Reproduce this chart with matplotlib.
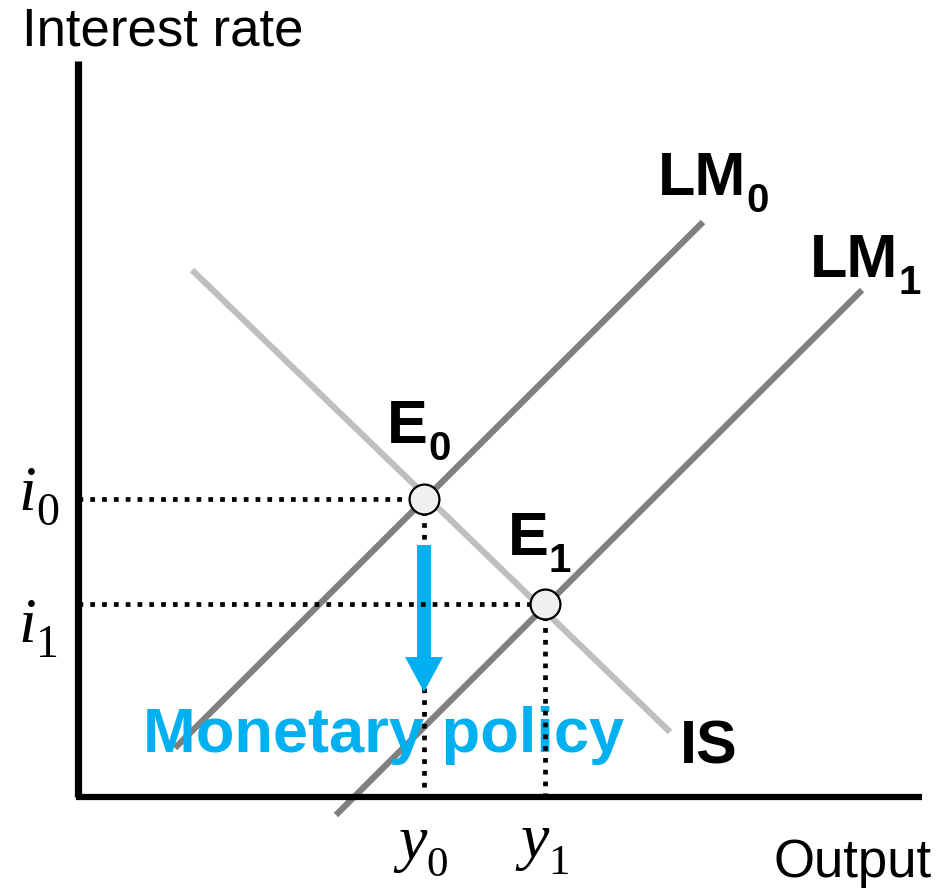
import matplotlib.pyplot as plt
from matplotlib.transforms import offset_copy

plt.rcParams['font.family'] = ['Liberation Sans', 'DejaVu Sans']

# diagram coordinates (origin at the axes corner)
x_axis_end = 84.4
y_axis_top = 73.6

lm0_x = [9.7, 62.5]
lm0_y = [4.9, 57.5]
lm1_x = [25.8, 78.4]
lm1_y = [-1.8, 50.7]
is_x = [11.4, 59.2]
is_y = [52.7, 6.5]

e0 = (34.6, 29.8)
e1 = (46.7, 19.3)

arrow_top = 25.2
arrow_tip = 10.5

fig = plt.figure(figsize=(9.41, 8.90), dpi=100)
ax = fig.add_axes([0, 0, 1, 1])
ax.set_xlim(-7.8, 86.3)
ax.set_ylim(-9.3, 79.7)
ax.axis('off')
renderer = fig.canvas.get_renderer()


def label(x, y, main, sub, size, subsize, drop, **kw):
    # main text then a subscript placed right after it, dropped below the baseline
    main_kw = dict(kw)
    sub_kw = dict(kw)
    if 'style' in sub_kw:
        sub_kw.pop('style')
    t = ax.text(x, y, main, fontsize=size, va='baseline', **main_kw)
    bb = t.get_window_extent(renderer)
    xs = ax.transData.inverted().transform((bb.x1, 0))[0]
    tr = offset_copy(ax.transData, fig=fig, x=0, y=-drop, units='dots')
    ax.text(xs, y, sub, fontsize=subsize, va='baseline', transform=tr, **sub_kw)


# axes
ax.plot([0, 0], [0, y_axis_top], color='black', lw=5.2, solid_capstyle='butt', zorder=3)
ax.plot([-0.2, x_axis_end], [0, 0], color='black', lw=4.5, solid_capstyle='butt', zorder=3)

# curves
ax.plot(is_x, is_y, color='#bfbfbf', lw=4.5, solid_capstyle='butt', zorder=2)
ax.plot(lm0_x, lm0_y, color='#808080', lw=4.5, solid_capstyle='butt', zorder=2)
ax.plot(lm1_x, lm1_y, color='#808080', lw=4.5, solid_capstyle='butt', zorder=2)

# dotted guides
dots = dict(color='black', lw=3.4, linestyle=(0, (1, 1.5)))
ax.plot([0, e0[0]], [e0[1], e0[1]], zorder=4, **dots)
ax.plot([e0[0], e0[0]], [e0[1], 0], zorder=4, **dots)
ax.plot([0, e1[0]], [e1[1], e1[1]], zorder=6, **dots)
ax.plot([e1[0], e1[0]], [e1[1], -0.4], zorder=4, **dots)

# policy arrow
ax.arrow(e0[0], arrow_top, 0, arrow_tip - arrow_top, width=1.4, head_width=3.8,
         head_length=3.5, length_includes_head=True, color='#00b0f0', lw=0, zorder=5)

# equilibrium points
ax.plot([e0[0], e1[0]], [e0[1], e1[1]], 'o', ms=21.5, mfc='#f0f0f0', mec='black',
        mew=1.6, zorder=7)

# labels
ax.text(-5.6, 75.2, 'Interest rate', fontsize=38, va='baseline')
ax.text(85.4, -8.0, 'Output', fontsize=38, va='baseline', ha='right')

bold = dict(fontweight='bold', zorder=8)
label(58.0, 60.2, 'LM', '0', 44, 29, 17, **bold)
label(73.2, 52.0, 'LM', '1', 44, 29, 17, **bold)
label(30.9, 35.4, 'E', '0', 44, 29, 17, **bold)
label(43.0, 24.2, 'E', '1', 44, 29, 17, **bold)
ax.text(60.2, 3.4, 'IS', fontsize=44, fontweight='bold', va='baseline')
ax.text(6.5, 4.5, 'Monetary policy', fontsize=45.5, fontweight='bold',
        color='#00b0f0', va='baseline', zorder=3.5)

serif = dict(family='Liberation Serif', style='italic')
label(-6.0, 28.7, 'i', '0', 46, 33, 15, **serif)
label(-6.0, 15.5, 'i', '1', 46, 33, 15, **serif)
label(32.0, -6.2, 'y', '0', 46, 31, 17, **serif)
label(44.2, -6.0, 'y', '1', 46, 31, 17, **serif)

plt.savefig('out.png', dpi=100)
